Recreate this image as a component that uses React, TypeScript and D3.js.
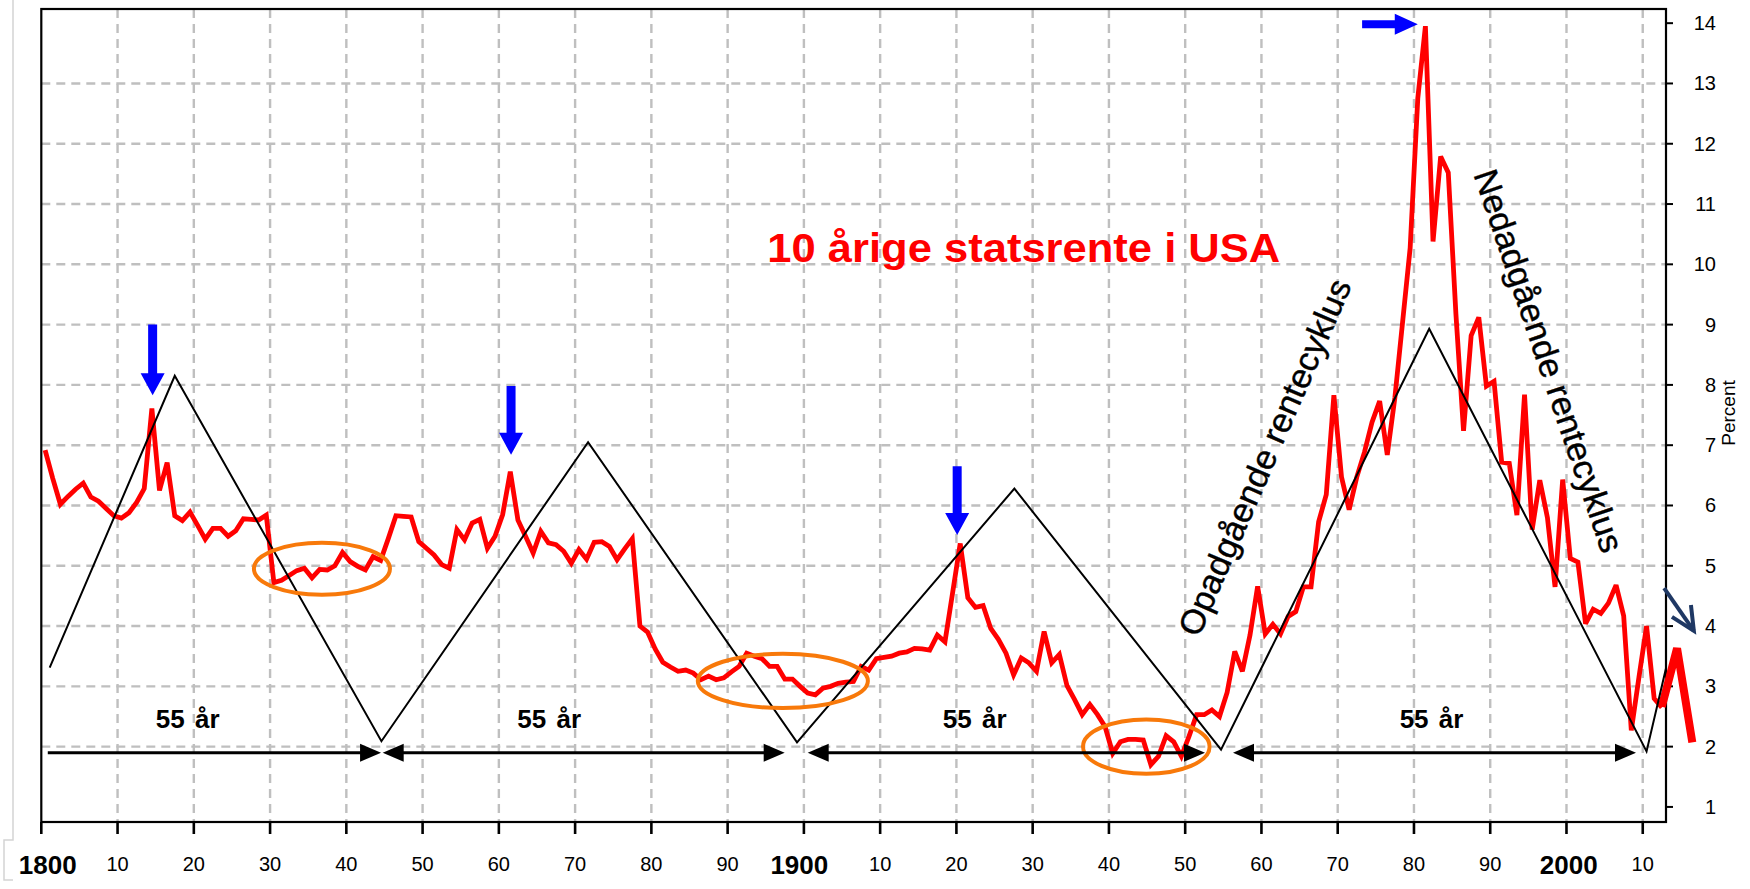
import React from 'react';
import * as d3 from 'd3';

const W = 1750;
const H = 889;
const FONT = "'Liberation Sans', Arial, Helvetica, sans-serif";

// Annual 10-year US government bond yield (percent), 1800..2012
const startYear = 1800;
const rates = [
  6.92, 6.45, 6.02, 6.15, 6.27, 6.37, 6.14, 6.07, 5.95, 5.83,
  5.79, 5.88, 6.05, 6.28, 7.61, 6.25, 6.71, 5.83, 5.75, 5.89,
  5.67, 5.44, 5.62, 5.62, 5.49, 5.58, 5.78, 5.77, 5.76, 5.84,
  4.72, 4.76, 4.84, 4.92, 4.96, 4.80, 4.94, 4.93, 5.00, 5.22,
  5.07, 4.99, 4.93, 5.15, 5.09, 5.45, 5.83, 5.82, 5.81, 5.40,
  5.29, 5.18, 5.02, 4.96, 5.60, 5.43, 5.71, 5.77, 5.29, 5.49,
  5.85, 6.56, 5.76, 5.49, 5.21, 5.57, 5.38, 5.35, 5.24, 5.04,
  5.27, 5.11, 5.39, 5.40, 5.32, 5.10, 5.28, 5.45, 4.00, 3.90,
  3.62, 3.40, 3.32, 3.25, 3.27, 3.22, 3.11, 3.17, 3.11, 3.14,
  3.24, 3.33, 3.55, 3.50, 3.46, 3.33, 3.33, 3.12, 3.12, 3.00,
  2.89, 2.86, 2.97, 3.00, 3.05, 3.07, 3.08, 3.33, 3.27, 3.46,
  3.48, 3.50, 3.55, 3.57, 3.63, 3.62, 3.60, 3.85, 3.74, 4.55,
  5.37, 4.47, 4.31, 4.34, 3.96, 3.78, 3.55, 3.19, 3.47, 3.39,
  3.25, 3.91, 3.39, 3.53, 3.01, 2.78, 2.53, 2.70, 2.53, 2.33,
  1.89, 2.08, 2.12, 2.12, 2.11, 1.70, 1.84, 2.18, 2.08, 1.84,
  2.17, 2.53, 2.53, 2.61, 2.50, 2.90, 3.58, 3.25, 3.85, 4.66,
  3.87, 4.03, 3.87, 4.16, 4.24, 4.65, 4.65, 5.73, 6.18, 7.83,
  6.47, 5.93, 6.47, 6.88, 7.38, 7.73, 6.84, 7.79, 9.03, 10.27,
  12.75, 13.95, 10.38, 11.79, 11.52, 9.18, 7.24, 8.82, 9.12, 7.98,
  8.06, 6.72, 6.70, 5.84, 7.84, 5.60, 6.42, 5.80, 4.65, 6.43,
  5.12, 5.06, 4.04, 4.28, 4.21, 4.38, 4.68, 4.17, 2.27, 3.15,
  4.00, 2.80, 2.65,
];
const years = rates.map((_, i) => startYear + i);

// Thick overlay at the end
const tailYears = [2012, 2014, 2016];
const tailRates = [2.66, 3.63, 2.07];

// 55-year cycle zigzag
const cycleYears = [1801.1, 1817.5, 1844.6, 1871.7, 1899.1, 1927.6, 1954.7, 1982.0, 2010.5, 2013.05];
const cycleValues = [3.31, 8.15, 2.09, 7.05, 2.07, 6.28, 1.95, 8.93, 1.92, 3.3];

// Axes
const xTickYears = [1800, 1810, 1820, 1830, 1840, 1850, 1860, 1870, 1880, 1890, 1900, 1910, 1920, 1930, 1940, 1950, 1960, 1970, 1980, 1990, 2000, 2010];
const xTickLabels = ['1800', '10', '20', '30', '40', '50', '60', '70', '80', '90', '1900', '10', '20', '30', '40', '50', '60', '70', '80', '90', '2000', '10'];
const xBoldLabelYears = [1800, 1900, 2000];
const xBoldLabelCenters = [1800.85, 1899.4, 2000.3];
const yTicks = [1, 2, 3, 4, 5, 6, 7, 8, 9, 10, 11, 12, 13, 14];
const yGrid = [2, 3, 4, 5, 6, 7, 8, 9, 10, 11, 12, 13];

// Annotations
const downArrowYears = [1814.6, 1861.6, 1920.1];
const downArrowTop = [9.0, 7.98, 6.65];
const downArrowTip = [7.83, 6.84, 5.51];
const rightArrowYears = [1973.2, 1980.5];
const rightArrowValue = 13.98;

const spanValue = 1.9;
const spanStart = [1800.85, 1844.77, 1900.5, 1956.27];
const spanEnd = [1844.55, 1897.48, 1952.6, 2009.12];
const spanHeadLeft = [false, true, true, true];
const spanLabelYears = [1819.2, 1866.6, 1922.4, 1982.3];
const spanLabelValue = 2.31;
const spanLabel = '55 år';

const ellipseYears = [1836.8, 1897.24, 1944.9];
const ellipseValues = [4.95, 3.09, 2.0];
const ellipseRxYears = [8.92, 11.15, 8.3];
const ellipseRyValues = [0.43, 0.45, 0.45];

const navyArrowYears = [2012.8, 2016.7];
const navyArrowValues = [4.63, 3.92];

const title = '10 årige statsrente i USA';
const upText = 'Opadgående rentecyklus';
const downText = 'Nedadgående rentecyklus';

export default function App() {
  const left = 41.3;
  const right = 1666;
  const top = 9;
  const bottom = 822;
  const x = d3.scaleLinear().domain([1800, 2013.05]).range([left, right]);
  const y = d3.scaleLinear().domain([0.75, 14.235]).range([bottom, top]);

  const line = d3.line<[number, number]>().x(d => x(d[0] + 0.5)).y(d => y(d[1]));
  const redPath = line(years.map((yr, i) => [yr, rates[i]]));
  const tailPath = line(tailYears.map((yr, i) => [yr, tailRates[i]]));
  const cyclePath = d3.line<[number, number]>().x(d => x(d[0])).y(d => y(d[1]))(
    cycleYears.map((yr, i) => [yr, cycleValues[i]])
  );

  const downArrows = downArrowYears.map((yr, i) => {
    const cx = x(yr);
    const yT = y(downArrowTop[i]);
    const yB = y(downArrowTip[i]);
    const hl = 22, hw = 12, sw = 4.5;
    return `${cx - sw},${yT} ${cx + sw},${yT} ${cx + sw},${yB - hl} ${cx + hw},${yB - hl} ${cx},${yB} ${cx - hw},${yB - hl} ${cx - sw},${yB - hl}`;
  });
  const ra0 = x(rightArrowYears[0]);
  const ra1 = x(rightArrowYears[1]);
  const ray = y(rightArrowValue);
  const rightArrow = `${ra0},${ray - 4} ${ra1 - 23},${ray - 4} ${ra1 - 23},${ray - 10.5} ${ra1},${ray} ${ra1 - 23},${ray + 10.5} ${ra1 - 23},${ray + 4} ${ra0},${ray + 4}`;

  const sy = y(spanValue);
  const hL = 21, hH = 9;

  const nx0 = x(navyArrowYears[0]), ny0 = y(navyArrowValues[0]);
  const nx1 = x(navyArrowYears[1]), ny1 = y(navyArrowValues[1]);
  const ang1 = (212.7 * Math.PI) / 180;
  const ang2 = (263.6 * Math.PI) / 180;
  const armL = 26;

  return (
    <svg width={W} height={H} viewBox={`0 0 ${W} ${H}`} style={{ position: 'absolute', left: 0, top: 0, background: '#fff', fontFamily: FONT }}>
      <rect x={0} y={0} width={W} height={H} fill="#fff" />
      {/* faint cell border at far left */}
      <path d={`M13,0 V840 H4 V880 H13`} fill="none" stroke="#d4d4d4" strokeWidth={1.5} />

      {/* grid */}
      <g stroke="#bfbfbf" strokeWidth={2.4} strokeDasharray="9,6">
        {yGrid.map(v => (
          <line key={'h' + v} x1={left} x2={right} y1={y(v)} y2={y(v)} />
        ))}
        {xTickYears.filter(t => t > 1800).map(t => (
          <line key={'v' + t} x1={x(t)} x2={x(t)} y1={top} y2={bottom} />
        ))}
      </g>

      {/* frame */}
      <rect x={left} y={top} width={right - left} height={bottom - top} fill="none" stroke="#000" strokeWidth={2.2} />

      {/* x ticks */}
      <g stroke="#000" strokeWidth={2.6}>
        {xTickYears.map(t => (
          <line key={'xt' + t} x1={x(t)} x2={x(t)} y1={bottom} y2={bottom + 12} />
        ))}
      </g>
      {/* y ticks on right */}
      <g stroke="#000" strokeWidth={2}>
        {yTicks.map(v => (
          <line key={'yt' + v} x1={right} x2={right + 7} y1={y(v)} y2={y(v)} />
        ))}
      </g>

      {/* x labels */}
      <g fontSize={20} fill="#000" textAnchor="middle">
        {xTickYears.map((t, i) =>
          xBoldLabelYears.includes(t) ? null : (
            <text key={'xl' + t} x={x(t)} y={871}>{xTickLabels[i]}</text>
          )
        )}
      </g>
      <g fontSize={26} fontWeight="bold" fill="#000" textAnchor="middle">
        {xBoldLabelYears.map((t, i) => (
          <text key={'xb' + t} x={x(xBoldLabelCenters[i])} y={874}>{xTickLabels[xTickYears.indexOf(t)]}</text>
        ))}
      </g>

      {/* y labels */}
      <g fontSize={20} fill="#000" textAnchor="end">
        {yTicks.map(v => (
          <text key={'yl' + v} x={1716} y={y(v) + 7}>{v}</text>
        ))}
      </g>
      <text transform={`translate(1735,413) rotate(-90)`} fontSize={19} textAnchor="middle" fill="#000">Percent</text>

      {/* red series */}
      <path d={redPath || ''} fill="none" stroke="#ff0000" strokeWidth={4.8} strokeLinejoin="miter" strokeMiterlimit={3} />
      <path d={tailPath || ''} fill="none" stroke="#ff0000" strokeWidth={8} strokeLinejoin="miter" strokeMiterlimit={3} />

      {/* cycle zigzag */}
      <path d={cyclePath || ''} fill="none" stroke="#000" strokeWidth={2} />

      {/* ellipses */}
      {ellipseYears.map((yr, i) => (
        <ellipse
          key={'el' + i}
          cx={x(yr)}
          cy={y(ellipseValues[i])}
          rx={x(yr + ellipseRxYears[i]) - x(yr)}
          ry={y(ellipseValues[i]) - y(ellipseValues[i] + ellipseRyValues[i])}
          fill="none"
          stroke="#f8790a"
          strokeWidth={4}
        />
      ))}

      {/* span arrows */}
      {spanStart.map((s, i) => {
        const x0 = x(s);
        const x1 = x(spanEnd[i]);
        return (
          <g key={'sp' + i}>
            <line x1={spanHeadLeft[i] ? x0 + hL - 2 : x0} x2={x1 - hL + 2} y1={sy} y2={sy} stroke="#000" strokeWidth={3} />
            <polygon points={`${x1},${sy} ${x1 - hL},${sy - hH} ${x1 - hL},${sy + hH}`} fill="#000" />
            {spanHeadLeft[i] && <polygon points={`${x0},${sy} ${x0 + hL},${sy - hH} ${x0 + hL},${sy + hH}`} fill="#000" />}
          </g>
        );
      })}
      <g fontSize={26} fontWeight="bold" fill="#000" textAnchor="middle" style={{ wordSpacing: '3px' }}>
        {spanLabelYears.map((yr, i) => (
          <text key={'sl' + i} x={x(yr)} y={y(spanLabelValue)}>{spanLabel}</text>
        ))}
      </g>

      {/* blue arrows */}
      {downArrows.map((p, i) => (
        <polygon key={'da' + i} points={p} fill="#0000ff" />
      ))}
      <polygon points={rightArrow} fill="#0000ff" />

      {/* navy arrow */}
      <g stroke="#1f3864" strokeWidth={4} fill="none" strokeLinecap="butt">
        <line x1={nx0} y1={ny0} x2={nx1} y2={ny1} />
        <polyline points={`${nx1 + armL * Math.cos(ang1)},${ny1 + armL * Math.sin(ang1)} ${nx1},${ny1} ${nx1 + armL * Math.cos(ang2)},${ny1 + armL * Math.sin(ang2)}`} />
      </g>

      {/* texts */}
      <text x={x(1895.2)} y={y(10.04)} fontSize={41} fontWeight="bold" fill="#ff0000" textLength={513} lengthAdjust="spacingAndGlyphs">{title}</text>
      <text transform={`translate(${x(1960.4)},${y(6.8)}) rotate(-66.5)`} fontSize={34} fill="#000" stroke="#000" strokeWidth={0.4} textAnchor="middle" dy="0.35em" textLength={385} lengthAdjust="spacingAndGlyphs">{upText}</text>
      <text transform={`translate(${x(1997.7)},${y(8.4)}) rotate(71.3)`} fontSize={34} fill="#000" stroke="#000" strokeWidth={0.4} textAnchor="middle" dy="0.35em" textLength={402} lengthAdjust="spacingAndGlyphs">{downText}</text>
    </svg>
  );
}
